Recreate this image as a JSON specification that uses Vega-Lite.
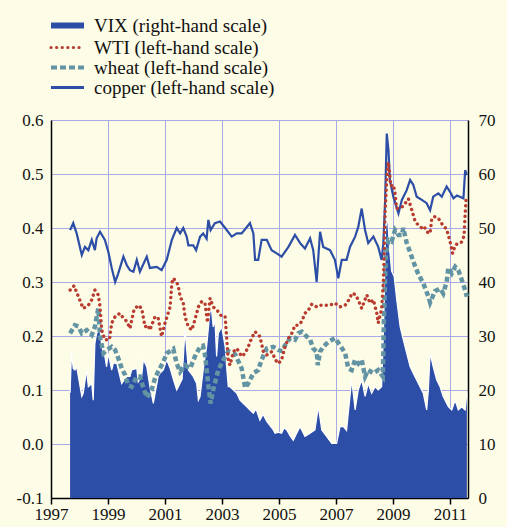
{
  "$schema": "https://vega.github.io/schema/vega-lite/v6.json",
  "width": 417,
  "height": 378,
  "autosize": "none",
  "padding": {"left": 51, "top": 120, "right": 39, "bottom": 29},
  "background": "#fdfce6",
  "config": {
    "view": {"stroke": null},
    "font": "'Liberation Serif', 'Times New Roman', 'DejaVu Serif', serif",
    "axis": {
      "labelFont": "'Liberation Serif', 'Times New Roman', 'DejaVu Serif', serif",
      "labelFontSize": 17,
      "labelColor": "#111111",
      "domainColor": "#000000",
      "domainWidth": 1.5,
      "gridColor": "#a9a9e8",
      "gridWidth": 1,
      "gridOpacity": 1,
      "title": null
    },
    "legend": {
      "labelFont": "'Liberation Serif', 'Times New Roman', 'DejaVu Serif', serif",
      "labelFontSize": 19,
      "labelColor": "#111111",
      "labelLimit": 400
    }
  },
  "datasets": {
    "vix": [
      {"t":1997.67,"v":19.5},{"t":1997.72,"v":27},{"t":1997.78,"v":24},{"t":1997.84,"v":23.7},{"t":1997.90,"v":24.3},{"t":1997.96,"v":22.5},
      {"t":1998.08,"v":18.8},{"t":1998.13,"v":19.4},{"t":1998.25,"v":23.7},{"t":1998.31,"v":20.6},{"t":1998.43,"v":21.2},{"t":1998.48,"v":18.1},
      {"t":1998.54,"v":28.6},{"t":1998.60,"v":30.5},{"t":1998.72,"v":31.1},{"t":1998.78,"v":28.0},{"t":1998.89,"v":26.2},{"t":1998.95,"v":24.3},
      {"t":1999.01,"v":26.8},{"t":1999.13,"v":23.7},{"t":1999.19,"v":25},{"t":1999.31,"v":24.9},{"t":1999.48,"v":21.2},{"t":1999.66,"v":22.5},
      {"t":1999.77,"v":22.5},{"t":1999.83,"v":23.7},{"t":2000.01,"v":24},{"t":2000.06,"v":21.5},{"t":2000.18,"v":22.5},{"t":2000.24,"v":25.6},
      {"t":2000.36,"v":24.3},{"t":2000.47,"v":20.6},{"t":2000.59,"v":17.5},{"t":2000.76,"v":22.5},{"t":2000.82,"v":23.1},{"t":2000.94,"v":23.7},
      {"t":2001.06,"v":25.6},{"t":2001.18,"v":24},{"t":2001.29,"v":22},{"t":2001.41,"v":20},{"t":2001.47,"v":20.6},{"t":2001.60,"v":22},
      {"t":2001.70,"v":31.1},{"t":2001.82,"v":23.7},{"t":2001.99,"v":22.5},{"t":2002.11,"v":21.2},{"t":2002.17,"v":18.1},{"t":2002.23,"v":18.8},
      {"t":2002.34,"v":23.7},{"t":2002.46,"v":28},{"t":2002.58,"v":34.8},{"t":2002.64,"v":34.5},{"t":2002.69,"v":31.7},{"t":2002.75,"v":33},
      {"t":2002.81,"v":26.2},{"t":2002.87,"v":30.5},{"t":2002.99,"v":31.7},{"t":2003.11,"v":28},{"t":2003.16,"v":24.3},{"t":2003.22,"v":20.6},
      {"t":2003.28,"v":20.6},{"t":2003.40,"v":20},{"t":2003.52,"v":19.4},{"t":2003.63,"v":18.1},{"t":2003.75,"v":17.5},{"t":2003.87,"v":16.9},
      {"t":2003.98,"v":16.3},{"t":2004.10,"v":15.7},{"t":2004.19,"v":16.5},{"t":2004.33,"v":14.4},{"t":2004.44,"v":15.5},{"t":2004.57,"v":14.2},
      {"t":2004.67,"v":13.5},{"t":2004.80,"v":12.6},{"t":2004.86,"v":12.0},{"t":2004.98,"v":12.2},{"t":2005.09,"v":12},{"t":2005.18,"v":13},
      {"t":2005.27,"v":12.6},{"t":2005.39,"v":11.5},{"t":2005.50,"v":10.7},{"t":2005.62,"v":12},{"t":2005.74,"v":13.2},{"t":2005.91,"v":11.4},
      {"t":2006.09,"v":12},{"t":2006.26,"v":12.6},{"t":2006.38,"v":16.9},{"t":2006.50,"v":12.6},{"t":2006.67,"v":11.4},{"t":2006.85,"v":10.1},
      {"t":2007.02,"v":10.1},{"t":2007.14,"v":13.2},{"t":2007.26,"v":13.2},{"t":2007.37,"v":12.5},{"t":2007.43,"v":15.7},{"t":2007.55,"v":21.9},
      {"t":2007.67,"v":16.3},{"t":2007.78,"v":20},{"t":2007.90,"v":21.9},{"t":2008.02,"v":18.8},{"t":2008.13,"v":21.2},{"t":2008.25,"v":19.4},
      {"t":2008.37,"v":20.6},{"t":2008.48,"v":20},{"t":2008.60,"v":20.6},{"t":2008.64,"v":26.8},{"t":2008.68,"v":34},{"t":2008.74,"v":50},
      {"t":2008.81,"v":52},{"t":2008.88,"v":46},{"t":2008.95,"v":42},{"t":2009.04,"v":41},{"t":2009.13,"v":36.7},{"t":2009.25,"v":31.7},
      {"t":2009.36,"v":29.3},{"t":2009.48,"v":26.8},{"t":2009.60,"v":24.3},{"t":2009.71,"v":23.1},{"t":2009.89,"v":21.2},{"t":2010.06,"v":19.4},
      {"t":2010.18,"v":16.3},{"t":2010.24,"v":20},{"t":2010.30,"v":26.8},{"t":2010.41,"v":24.3},{"t":2010.53,"v":21.9},{"t":2010.65,"v":20.6},
      {"t":2010.76,"v":18.8},{"t":2010.94,"v":16.9},{"t":2011.06,"v":16.3},{"t":2011.18,"v":18.1},{"t":2011.29,"v":16.3},{"t":2011.41,"v":16.9},
      {"t":2011.53,"v":16.3},{"t":2011.59,"v":19.4}
    ],
    "copper": [
      {"t":1997.67,"v":0.396},{"t":1997.78,"v":0.409},{"t":1997.90,"v":0.39},{"t":1998.08,"v":0.35},{"t":1998.19,"v":0.365},{"t":1998.31,"v":0.359},
      {"t":1998.43,"v":0.378},{"t":1998.54,"v":0.359},{"t":1998.60,"v":0.381},{"t":1998.72,"v":0.393},{"t":1998.89,"v":0.378},{"t":1999.01,"v":0.356},
      {"t":1999.13,"v":0.326},{"t":1999.25,"v":0.300},{"t":1999.36,"v":0.316},{"t":1999.54,"v":0.347},{"t":1999.66,"v":0.331},{"t":1999.77,"v":0.322},
      {"t":1999.89,"v":0.319},{"t":2000.01,"v":0.341},{"t":2000.12,"v":0.319},{"t":2000.36,"v":0.347},{"t":2000.47,"v":0.326},{"t":2000.71,"v":0.328},
      {"t":2000.88,"v":0.322},{"t":2001.06,"v":0.341},{"t":2001.24,"v":0.378},{"t":2001.41,"v":0.400},{"t":2001.53,"v":0.390},{"t":2001.64,"v":0.400},
      {"t":2001.76,"v":0.384},{"t":2001.82,"v":0.368},{"t":2001.99,"v":0.368},{"t":2002.09,"v":0.359},{"t":2002.23,"v":0.384},{"t":2002.34,"v":0.390},
      {"t":2002.46,"v":0.380},{"t":2002.52,"v":0.415},{"t":2002.60,"v":0.396},{"t":2002.75,"v":0.409},{"t":2002.93,"v":0.412},{"t":2003.11,"v":0.400},
      {"t":2003.34,"v":0.384},{"t":2003.52,"v":0.390},{"t":2003.69,"v":0.390},{"t":2003.92,"v":0.405},{"t":2003.98,"v":0.409},{"t":2004.10,"v":0.390},
      {"t":2004.16,"v":0.341},{"t":2004.27,"v":0.341},{"t":2004.39,"v":0.378},{"t":2004.57,"v":0.378},{"t":2004.74,"v":0.359},{"t":2004.92,"v":0.353},
      {"t":2005.09,"v":0.347},{"t":2005.33,"v":0.365},{"t":2005.56,"v":0.387},{"t":2005.74,"v":0.372},{"t":2005.91,"v":0.362},{"t":2006.09,"v":0.381},
      {"t":2006.20,"v":0.359},{"t":2006.32,"v":0.300},{"t":2006.44,"v":0.393},{"t":2006.55,"v":0.365},{"t":2006.79,"v":0.359},{"t":2006.96,"v":0.341},
      {"t":2007.08,"v":0.307},{"t":2007.20,"v":0.341},{"t":2007.37,"v":0.341},{"t":2007.49,"v":0.365},{"t":2007.67,"v":0.384},{"t":2007.78,"v":0.402},
      {"t":2007.90,"v":0.436},{"t":2008.02,"v":0.396},{"t":2008.13,"v":0.372},{"t":2008.31,"v":0.384},{"t":2008.48,"v":0.365},{"t":2008.60,"v":0.341},
      {"t":2008.66,"v":0.372},{"t":2008.72,"v":0.446},{"t":2008.78,"v":0.575},{"t":2008.84,"v":0.544},{"t":2008.89,"v":0.489},{"t":2009.01,"v":0.458},
      {"t":2009.19,"v":0.427},{"t":2009.31,"v":0.452},{"t":2009.48,"v":0.470},{"t":2009.60,"v":0.489},{"t":2009.71,"v":0.480},{"t":2009.83,"v":0.458},
      {"t":2010.01,"v":0.452},{"t":2010.18,"v":0.446},{"t":2010.30,"v":0.433},{"t":2010.41,"v":0.458},{"t":2010.59,"v":0.464},{"t":2010.71,"v":0.458},
      {"t":2010.88,"v":0.477},{"t":2011.00,"v":0.467},{"t":2011.12,"v":0.455},{"t":2011.24,"v":0.460},{"t":2011.47,"v":0.455},{"t":2011.53,"v":0.507},
      {"t":2011.59,"v":0.498}
    ],
    "wheat": [
      {"t":1997.67,"v":0.205},{"t":1997.84,"v":0.220},{"t":1997.96,"v":0.218},{"t":1998.08,"v":0.205},{"t":1998.25,"v":0.211},{"t":1998.43,"v":0.202},
      {"t":1998.54,"v":0.217},{"t":1998.60,"v":0.235},{"t":1998.66,"v":0.251},{"t":1998.72,"v":0.199},{"t":1998.84,"v":0.168},{"t":1998.95,"v":0.174},
      {"t":1999.13,"v":0.180},{"t":1999.25,"v":0.174},{"t":1999.36,"v":0.159},{"t":1999.48,"v":0.140},{"t":1999.60,"v":0.128},{"t":1999.71,"v":0.109},
      {"t":1999.83,"v":0.106},{"t":2000.01,"v":0.125},{"t":2000.12,"v":0.125},{"t":2000.24,"v":0.104},{"t":2000.37,"v":0.086},{"t":2000.53,"v":0.100},
      {"t":2000.65,"v":0.122},{"t":2000.76,"v":0.134},{"t":2000.94,"v":0.152},{"t":2001.06,"v":0.168},{"t":2001.29,"v":0.176},{"t":2001.41,"v":0.149},
      {"t":2001.53,"v":0.134},{"t":2001.70,"v":0.146},{"t":2001.88,"v":0.140},{"t":2002.05,"v":0.162},{"t":2002.23,"v":0.180},{"t":2002.33,"v":0.182},
      {"t":2002.40,"v":0.166},{"t":2002.52,"v":0.109},{"t":2002.60,"v":0.075},{"t":2002.69,"v":0.100},{"t":2002.87,"v":0.137},{"t":2003.05,"v":0.156},
      {"t":2003.22,"v":0.172},{"t":2003.46,"v":0.166},{"t":2003.69,"v":0.140},{"t":2003.81,"v":0.104},{"t":2003.92,"v":0.112},{"t":2004.10,"v":0.131},
      {"t":2004.27,"v":0.137},{"t":2004.39,"v":0.156},{"t":2004.57,"v":0.177},{"t":2004.80,"v":0.180},{"t":2004.98,"v":0.174},{"t":2005.11,"v":0.172},
      {"t":2005.21,"v":0.183},{"t":2005.39,"v":0.196},{"t":2005.56,"v":0.193},{"t":2005.68,"v":0.205},{"t":2005.80,"v":0.208},{"t":2005.91,"v":0.202},
      {"t":2006.09,"v":0.193},{"t":2006.20,"v":0.177},{"t":2006.32,"v":0.171},{"t":2006.36,"v":0.146},{"t":2006.44,"v":0.171},{"t":2006.55,"v":0.180},
      {"t":2006.73,"v":0.189},{"t":2006.96,"v":0.196},{"t":2007.14,"v":0.183},{"t":2007.32,"v":0.168},{"t":2007.43,"v":0.140},{"t":2007.55,"v":0.137},
      {"t":2007.67,"v":0.156},{"t":2007.78,"v":0.149},{"t":2007.90,"v":0.156},{"t":2008.02,"v":0.125},{"t":2008.13,"v":0.137},{"t":2008.31,"v":0.131},
      {"t":2008.48,"v":0.137},{"t":2008.64,"v":0.125},{"t":2008.66,"v":0.168},{"t":2008.68,"v":0.230},{"t":2008.72,"v":0.304},{"t":2008.75,"v":0.353},
      {"t":2008.84,"v":0.378},{"t":2008.95,"v":0.375},{"t":2009.07,"v":0.396},{"t":2009.19,"v":0.387},{"t":2009.31,"v":0.387},{"t":2009.36,"v":0.400},
      {"t":2009.48,"v":0.372},{"t":2009.60,"v":0.355},{"t":2009.71,"v":0.338},{"t":2009.89,"v":0.314},{"t":2010.06,"v":0.298},{"t":2010.24,"v":0.273},
      {"t":2010.30,"v":0.262},{"t":2010.47,"v":0.283},{"t":2010.65,"v":0.288},{"t":2010.76,"v":0.279},{"t":2010.88,"v":0.300},{"t":2010.94,"v":0.326},
      {"t":2011.06,"v":0.316},{"t":2011.18,"v":0.328},{"t":2011.29,"v":0.322},{"t":2011.41,"v":0.304},{"t":2011.53,"v":0.285},{"t":2011.59,"v":0.273}
    ],
    "wti": [
      {"t":1997.67,"v":0.285},{"t":1997.81,"v":0.293},{"t":1997.96,"v":0.273},{"t":1998.13,"v":0.251},{"t":1998.31,"v":0.257},{"t":1998.43,"v":0.267},
      {"t":1998.54,"v":0.285},{"t":1998.66,"v":0.276},{"t":1998.72,"v":0.254},{"t":1998.78,"v":0.211},{"t":1998.89,"v":0.193},{"t":1999.05,"v":0.193},
      {"t":1999.13,"v":0.224},{"t":1999.25,"v":0.236},{"t":1999.42,"v":0.242},{"t":1999.54,"v":0.233},{"t":1999.66,"v":0.227},{"t":1999.77,"v":0.214},
      {"t":1999.91,"v":0.248},{"t":2000.06,"v":0.257},{"t":2000.18,"v":0.251},{"t":2000.30,"v":0.217},{"t":2000.41,"v":0.220},{"t":2000.47,"v":0.211},
      {"t":2000.65,"v":0.236},{"t":2000.76,"v":0.233},{"t":2000.88,"v":0.199},{"t":2001.00,"v":0.224},{"t":2001.18,"v":0.254},{"t":2001.24,"v":0.298},
      {"t":2001.29,"v":0.307},{"t":2001.41,"v":0.300},{"t":2001.47,"v":0.291},{"t":2001.53,"v":0.273},{"t":2001.64,"v":0.261},{"t":2001.70,"v":0.236},
      {"t":2001.82,"v":0.217},{"t":2001.94,"v":0.211},{"t":2002.05,"v":0.230},{"t":2002.17,"v":0.254},{"t":2002.29,"v":0.264},{"t":2002.40,"v":0.261},
      {"t":2002.49,"v":0.225},{"t":2002.58,"v":0.270},{"t":2002.69,"v":0.254},{"t":2002.87,"v":0.245},{"t":2002.99,"v":0.236},{"t":2003.11,"v":0.236},
      {"t":2003.16,"v":0.199},{"t":2003.22,"v":0.156},{"t":2003.28,"v":0.146},{"t":2003.40,"v":0.171},{"t":2003.52,"v":0.177},{"t":2003.69,"v":0.162},
      {"t":2003.81,"v":0.168},{"t":2003.92,"v":0.180},{"t":2004.04,"v":0.196},{"t":2004.16,"v":0.208},{"t":2004.33,"v":0.199},{"t":2004.45,"v":0.171},
      {"t":2004.57,"v":0.165},{"t":2004.74,"v":0.171},{"t":2004.92,"v":0.152},{"t":2004.98,"v":0.149},{"t":2005.09,"v":0.156},{"t":2005.21,"v":0.180},
      {"t":2005.33,"v":0.196},{"t":2005.45,"v":0.205},{"t":2005.56,"v":0.220},{"t":2005.68,"v":0.220},{"t":2005.80,"v":0.227},{"t":2005.91,"v":0.242},
      {"t":2006.03,"v":0.248},{"t":2006.15,"v":0.259},{"t":2006.32,"v":0.254},{"t":2006.44,"v":0.257},{"t":2006.61,"v":0.257},{"t":2006.79,"v":0.257},
      {"t":2006.96,"v":0.261},{"t":2007.14,"v":0.254},{"t":2007.32,"v":0.257},{"t":2007.49,"v":0.270},{"t":2007.55,"v":0.279},{"t":2007.67,"v":0.277},
      {"t":2007.78,"v":0.267},{"t":2007.90,"v":0.251},{"t":2008.08,"v":0.276},{"t":2008.19,"v":0.261},{"t":2008.31,"v":0.267},{"t":2008.43,"v":0.242},
      {"t":2008.48,"v":0.224},{"t":2008.60,"v":0.250},{"t":2008.66,"v":0.300},{"t":2008.69,"v":0.353},{"t":2008.72,"v":0.427},{"t":2008.78,"v":0.490},
      {"t":2008.83,"v":0.522},{"t":2008.87,"v":0.507},{"t":2008.92,"v":0.478},{"t":2009.01,"v":0.480},{"t":2009.07,"v":0.464},{"t":2009.13,"v":0.436},
      {"t":2009.25,"v":0.438},{"t":2009.36,"v":0.440},{"t":2009.48,"v":0.450},{"t":2009.54,"v":0.454},{"t":2009.66,"v":0.433},{"t":2009.77,"v":0.413},
      {"t":2009.89,"v":0.405},{"t":2010.01,"v":0.400},{"t":2010.09,"v":0.403},{"t":2010.18,"v":0.393},{"t":2010.30,"v":0.390},{"t":2010.36,"v":0.418},
      {"t":2010.47,"v":0.421},{"t":2010.59,"v":0.418},{"t":2010.76,"v":0.404},{"t":2010.88,"v":0.398},{"t":2011.00,"v":0.375},{"t":2011.09,"v":0.353},
      {"t":2011.18,"v":0.368},{"t":2011.29,"v":0.372},{"t":2011.41,"v":0.374},{"t":2011.49,"v":0.385},{"t":2011.53,"v":0.425},{"t":2011.56,"v":0.452}
    ]
  },
  "encoding": {
    "x": {
      "field": "t",
      "type": "quantitative",
      "scale": {"domain": [1997, 2011.63], "nice": false, "zero": false},
      "axis": {
        "values": [1997, 1999, 2001, 2003, 2005, 2007, 2009, 2011],
        "format": "d",
        "grid": true,
        "ticks": true,
        "tickSize": 6,
        "tickWidth": 1.5,
        "tickColor": "#000000",
        "labelPadding": 2,
        "labelFlush": false
      }
    }
  },
  "layer": [
    {
      "data": {"name": "vix"},
      "encoding": {
        "y": {
          "field": "v",
          "type": "quantitative",
          "scale": {"domain": [0, 70], "nice": false},
          "axis": {
            "orient": "right",
            "values": [0, 10, 20, 30, 40, 50, 60, 70],
            "grid": false,
            "ticks": false,
            "labelPadding": 10
          }
        }
      },
      "layer": [
        {"mark": {"type": "area", "color": "#2d4ea6", "opacity": 1}},
        {"mark": {"type": "line", "color": "#ffffff", "strokeWidth": 1.2}}
      ]
    },
    {
      "encoding": {
        "y": {
          "field": "v",
          "type": "quantitative",
          "scale": {"domain": [-0.1, 0.6], "nice": false, "zero": false},
          "axis": {
            "orient": "left",
            "values": [-0.1, 0, 0.1, 0.2, 0.3, 0.4, 0.5, 0.6],
            "labelExpr": "datum.value < 0 ? '-' + format(-datum.value, '.1f') : format(datum.value, '.1f')",
            "grid": true,
            "ticks": false,
            "labelPadding": 8
          }
        }
      },
      "layer": [
        {
          "data": {"name": "copper"},
          "mark": {"type": "line", "strokeWidth": 2.2},
          "encoding": {
            "color": {
              "datum": "copper (left-hand scale)",
              "type": "nominal",
              "scale": {
                "domain": ["VIX (right-hand scale)", "WTI (left-hand scale)", "wheat (left-hand scale)", "copper (left-hand scale)"],
                "range": ["#2d4ea6", "#b83c30", "#6394a4", "#2d4ea6"]
              },
              "legend": {
                "orient": "none",
                "legendX": 7,
                "legendY": -104,
                "title": null,
                "symbolType": "stroke",
                "symbolSize": 1089,
                "symbolStrokeWidth": 3,
                "labelOffset": 17,
                "rowPadding": -2,
                "padding": 0,
                "encode": {
                  "symbols": {
                    "update": {
                      "strokeWidth": {"signal": "datum.value == 'VIX (right-hand scale)' ? 6 : datum.value == 'wheat (left-hand scale)' ? 4 : datum.value == 'WTI (left-hand scale)' ? 3.2 : 2.8"},
                      "strokeDash": {"signal": "datum.value == 'WTI (left-hand scale)' ? [0.1, 5.5] : datum.value == 'wheat (left-hand scale)' ? [6, 3] : [1, 0]"},
                      "strokeCap": {"signal": "datum.value == 'WTI (left-hand scale)' ? 'round' : 'butt'"}
                    }
                  }
                }
              }
            }
          }
        },
        {
          "data": {"name": "wheat"},
          "mark": {"type": "line", "strokeWidth": 4.5, "strokeDash": [5, 3]},
          "encoding": {"color": {"datum": "wheat (left-hand scale)", "type": "nominal"}}
        },
        {
          "data": {"name": "wti"},
          "mark": {"type": "line", "strokeWidth": 3.4, "strokeDash": [0.1, 5.2], "strokeCap": "round"},
          "encoding": {"color": {"datum": "WTI (left-hand scale)", "type": "nominal"}}
        }
      ]
    }
  ],
  "resolve": {"scale": {"y": "independent"}}
}
